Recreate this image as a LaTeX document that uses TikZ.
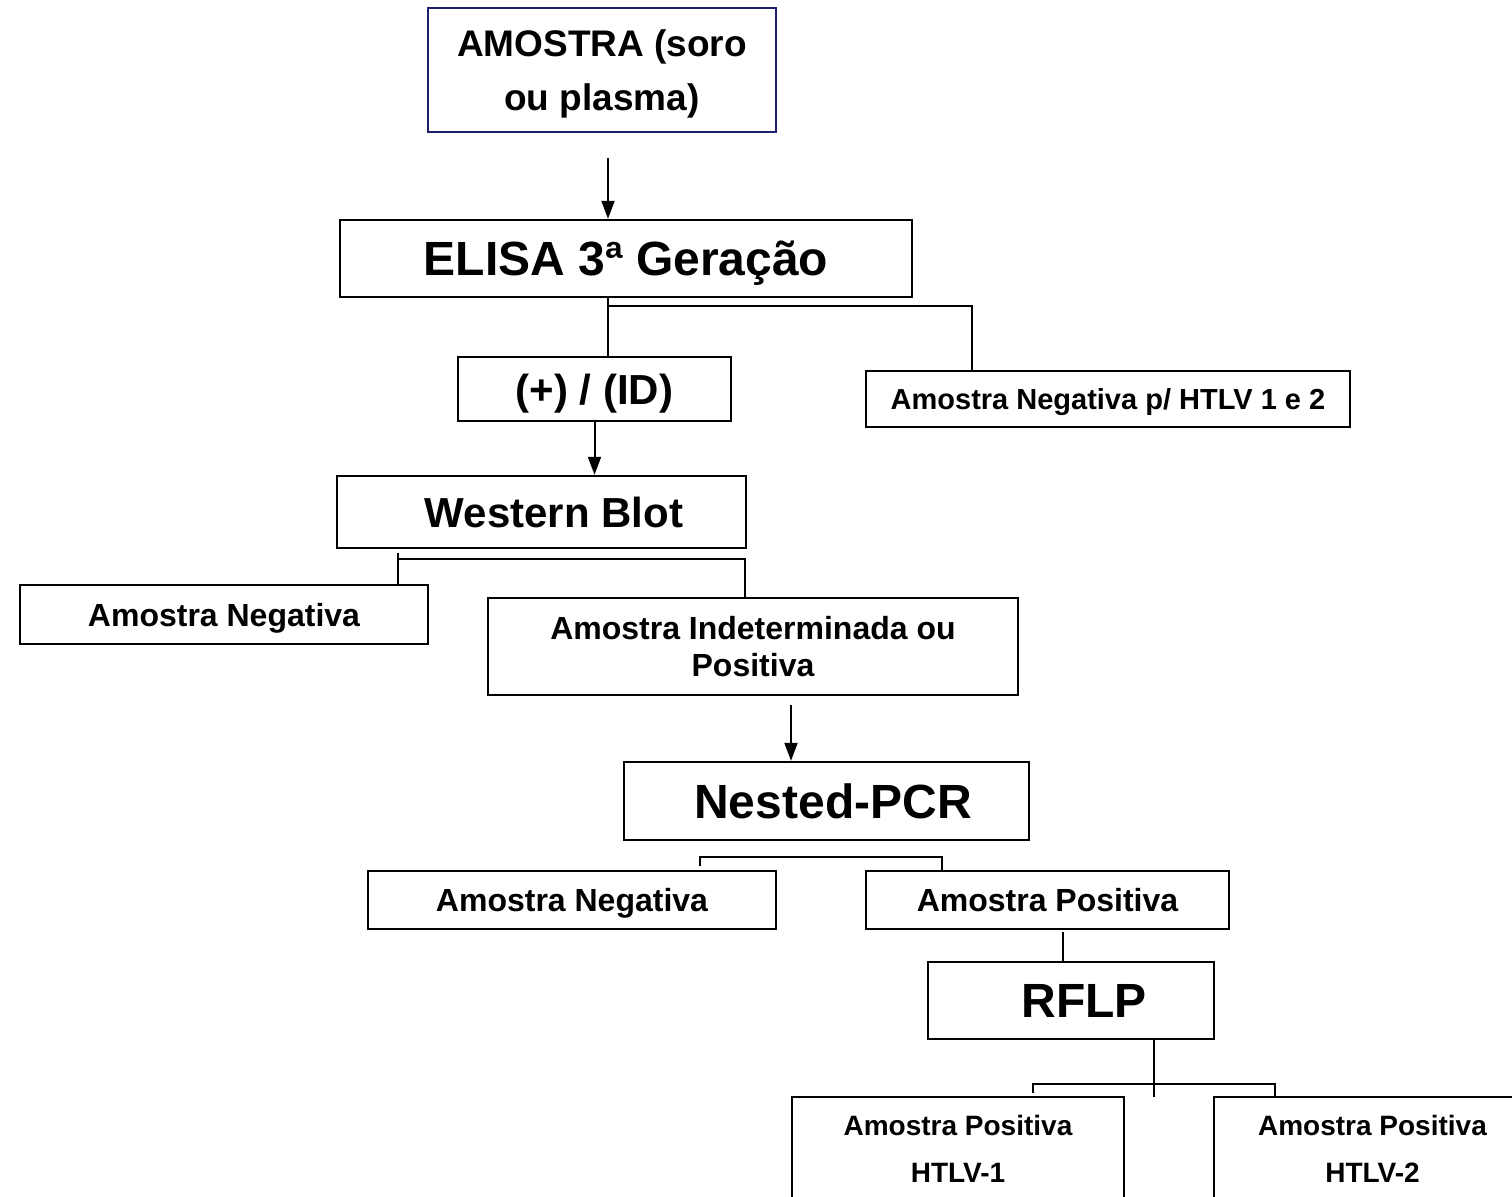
\documentclass[tikz,border=0pt]{standalone}
\usepackage{fontspec}
\setmainfont{Liberation Sans}
\usetikzlibrary{arrows.meta}
\definecolor{navybox}{RGB}{30,30,110}

\begin{document}
\begin{tikzpicture}[x=0.5pt, y=-0.5pt,
  box/.style={draw, line width=1.2pt, inner sep=0pt, align=center},
  one/.style={text height=#1, text depth=0pt},
  big/.style={one=17.2pt, font=\bfseries\fontsize{24}{28}\selectfont},
  mid/.style={one=11.5pt, font=\bfseries\fontsize{16}{18.5}\selectfont},
  link/.style={line width=1pt},
  arr/.style={line width=1pt, -{Triangle[length=9pt,width=6.5pt]}}]
\useasboundingbox (0,0) rectangle (1512,1196);
%Boxes
\node (amostra) at (602,70) [box, draw=navybox, text depth=-2pt, minimum width=174pt, minimum height=62pt, font=\bfseries\fontsize{18.5}{27}\selectfont] {AMOSTRA (soro\\ou plasma)};
\node (elisa) at (626,258.5) [box, big, minimum width=286pt, minimum height=38.5pt] {ELISA 3ª Geração};
\node (pos) at (594.5,389) [box, one=15pt, minimum width=136.5pt, minimum height=32pt, font=\bfseries\fontsize{21}{24}\selectfont] {(+) / (ID)};
\node (negHTLV) at (1108,399) [box, one=10.4pt, minimum width=242pt, minimum height=28pt, font=\bfseries\fontsize{14.5}{17}\selectfont] {Amostra Negativa p/ HTLV 1 e 2};
\node (wb) at (541.5,512) [box, one=15pt, minimum width=204.5pt, minimum height=36pt, font=\bfseries\fontsize{21}{24}\selectfont] {\hspace*{12.5pt}Western Blot};
\node (neg1) at (224,614.5) [box, mid, minimum width=204pt, minimum height=29.5pt] {Amostra Negativa};
\node (ind) at (753,646.5) [box, minimum width=265pt, minimum height=48.5pt, font=\bfseries\fontsize{16}{18.5}\selectfont] {Amostra Indeterminada ou\\Positiva};
\node (nested) at (826.5,801) [box, big, minimum width=202.5pt, minimum height=39pt] {\hspace*{6.5pt}Nested-PCR};
\node (neg2) at (572,900) [box, mid, minimum width=204pt, minimum height=29pt] {Amostra Negativa};
\node (posit) at (1047.5,900) [box, mid, minimum width=181.5pt, minimum height=29pt] {Amostra Positiva};
\node (rflp) at (1071,1000.5) [box, big, minimum width=143pt, minimum height=38.5pt] {\hspace*{13pt}RFLP};
\node (htlv1) at (958,1149) [box, minimum width=166pt, minimum height=52pt, font=\bfseries\fontsize{14}{23.5}\selectfont] {Amostra Positiva\\HTLV-1};
\node (htlv2) at (1372.5,1149) [box, minimum width=158.5pt, minimum height=52pt, font=\bfseries\fontsize{14}{23.5}\selectfont] {Amostra Positiva\\HTLV-2};
%Connectors
\coordinate (a1) at (608,158);
\draw[arr] (a1) -- (a1 |- elisa.north);
\coordinate (e1) at (608,306);
\coordinate (e2) at (972,306);
\draw[link] (e1 |- elisa.south) -- (e1 |- pos.north);
\draw[link] (e1) -- (e2) -- (e2 |- negHTLV.north);
\draw[arr] (pos.south) -- (pos.south |- wb.north);
\coordinate (w0) at (398,553);
\coordinate (w1) at (398,559);
\coordinate (w2) at (745,559);
\draw[link] (w0) -- (w0 |- neg1.north);
\draw[link] (w1) -- (w2) -- (w2 |- ind.north);
\coordinate (i1) at (791,705);
\draw[arr] (i1) -- (i1 |- nested.north);
\coordinate (n0) at (700,866);
\coordinate (n1) at (700,857);
\coordinate (n2) at (942,857);
\draw[link] (n0) -- (n1) -- (n2) -- (n2 |- posit.north);
\coordinate (p1) at (1063,932);
\draw[link] (p1) -- (p1 |- rflp.north);
\coordinate (r1) at (1154,1097);
\draw[link] (r1 |- rflp.south) -- (r1);
\coordinate (h0) at (1033,1093);
\coordinate (h1) at (1033,1084);
\coordinate (h2) at (1275,1084);
\draw[link] (h0) -- (h1) -- (h2) -- (h2 |- htlv2.north);
\end{tikzpicture}
\end{document}
